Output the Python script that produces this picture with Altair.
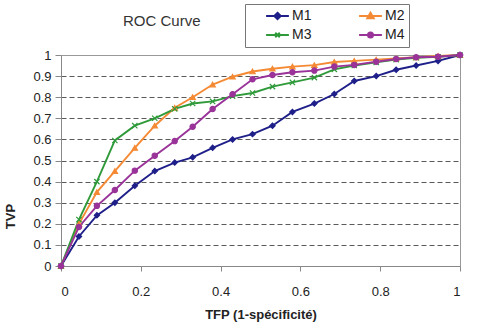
import altair as alt
import pandas as pd

tfp = [0, 0.045, 0.09, 0.135, 0.185, 0.235, 0.285, 0.33, 0.38, 0.43, 0.48,
       0.53, 0.58, 0.635, 0.685, 0.735, 0.79, 0.84, 0.89, 0.945, 1.0]
m1 = [0, 0.14, 0.24, 0.30, 0.38, 0.45, 0.49, 0.515, 0.56, 0.60, 0.625,
      0.665, 0.73, 0.77, 0.815, 0.877, 0.90, 0.93, 0.95, 0.972, 1.0]
m2 = [0, 0.20, 0.35, 0.45, 0.56, 0.665, 0.75, 0.80, 0.86, 0.897, 0.922,
      0.935, 0.945, 0.952, 0.967, 0.972, 0.978, 0.984, 0.989, 0.995, 1.0]
m3 = [0, 0.22, 0.40, 0.595, 0.665, 0.70, 0.745, 0.77, 0.78, 0.805, 0.82,
      0.85, 0.87, 0.893, 0.932, 0.95, 0.965, 0.978, 0.987, 0.991, 1.0]
m4 = [0, 0.185, 0.285, 0.36, 0.452, 0.523, 0.592, 0.66, 0.744, 0.814, 0.885,
      0.905, 0.918, 0.926, 0.945, 0.953, 0.968, 0.981, 0.989, 0.992, 1.0]

series_names = ["M1", "M2", "M3", "M4"]
series_values = [m1, m2, m3, m4]
colors = ["#1f1f8a", "#f58a35", "#2f9a3a", "#9a3399"]
x_ticks = [0, 0.2, 0.4, 0.6, 0.8, 1.0]
y_ticks = [0, 0.1, 0.2, 0.3, 0.4, 0.5, 0.6, 0.7, 0.8, 0.9, 1.0]

rows = []
for name, vals in zip(series_names, series_values):
    for i, (x, y) in enumerate(zip(tfp, vals)):
        rows.append({"series": name, "x": x, "y": y, "order": i})
df = pd.DataFrame(rows)

X_PATH = "M-1,-1L1,1M-1,1L1,-1"
point_shapes = ["diamond", "triangle-up", X_PATH, "circle"]
legend_shapes = [
    "M-1,0H1M0,-0.28L0.28,0L0,0.28L-0.28,0Z",
    "M-1,0H1M0,-0.28L0.28,0.2L-0.28,0.2Z",
    "M-1,0H1M-0.2,-0.2L0.2,0.2M-0.2,0.2L0.2,-0.2",
    "M-1,0H1M-0.22,0A0.22,0.22,0,1,0,0.22,0A0.22,0.22,0,1,0,-0.22,0Z",
]

FONT = "Liberation Sans"

xenc = alt.X("x:Q", scale=alt.Scale(domain=[0, 1], nice=False),
             axis=alt.Axis(values=x_ticks, format=".1~f", title="TFP (1-spécificité)",
                           grid=False, tickSize=5, labelPadding=14,
                           titlePadding=10))
yenc = alt.Y("y:Q", scale=alt.Scale(domain=[0, 1], nice=False),
             axis=alt.Axis(values=y_ticks, format=".1~f", title="TVP",
                           grid=True, gridDash=[5, 3], gridColor="#5a5a5a",
                           gridOpacity=alt.condition("datum.value >= 1", alt.value(0), alt.value(1)),
                           tickSize=6, labelPadding=4,
                           titleX=-44, titleY=161))

stroke_scale = alt.Scale(domain=series_names, range=colors)

lines = alt.Chart(df).mark_line(strokeWidth=1.9).encode(
    x=xenc, y=yenc,
    stroke=alt.Stroke("series:N", scale=stroke_scale, legend=None),
    order="order:Q",
)

points = alt.Chart(df).mark_point(filled=True, size=28, strokeWidth=1.2, opacity=1).encode(
    x=xenc, y=yenc,
    fill=alt.Fill("series:N", scale=stroke_scale, legend=None),
    stroke=alt.Stroke("series:N", scale=stroke_scale, legend=None),
    shape=alt.Shape("series:N", scale=alt.Scale(domain=series_names, range=point_shapes), legend=None),
)

legend_layer = alt.Chart(df).transform_filter("false").mark_point(filled=True, strokeWidth=2, opacity=1).encode(
    x=xenc, y=yenc,
    fill=alt.Fill("series:N", scale=stroke_scale, legend=alt.Legend(title=None)),
    stroke=alt.Stroke("series:N", scale=stroke_scale, legend=alt.Legend(title=None)),
    shape=alt.Shape("series:N", scale=alt.Scale(domain=series_names, range=legend_shapes),
                    legend=alt.Legend(
                        title=None, orient="none", legendX=184, legendY=-51,
                        direction="horizontal",
                        columns=2, columnPadding=30, rowPadding=3, padding=4,
                        clipHeight=16,
                        symbolOffset=16, symbolSize=520, symbolStrokeWidth=2,
                        labelOffset=2, labelFontSize=14, labelFont=FONT, labelColor="#222",
                        strokeColor="#777", fillColor="white")),
)

chart = alt.layer(lines, points, legend_layer).resolve_scale(
    fill="independent", stroke="independent", shape="independent"
).properties(
    width=399, height=211,
    autosize=alt.AutoSizeParams(type="none"),
    padding={"left": 61, "top": 55, "right": 22, "bottom": 62},
    title=alt.TitleParams("ROC Curve", anchor="start", frame="group", dx=62, offset=0, dy=25,
                          fontSize=15, fontWeight="normal", font=FONT, color="#333"),
    background="white",
).configure_view(
    stroke="#999", strokeWidth=1
).configure_axis(
    labelFont=FONT, labelFontSize=13, labelColor="#222",
    titleFont=FONT, titleFontSize=13, titleFontWeight="bold", titleColor="#222",
    domainColor="#888", tickColor="#888",
)

chart.save("out.html", embed_options={"renderer": "svg", "actions": False})
